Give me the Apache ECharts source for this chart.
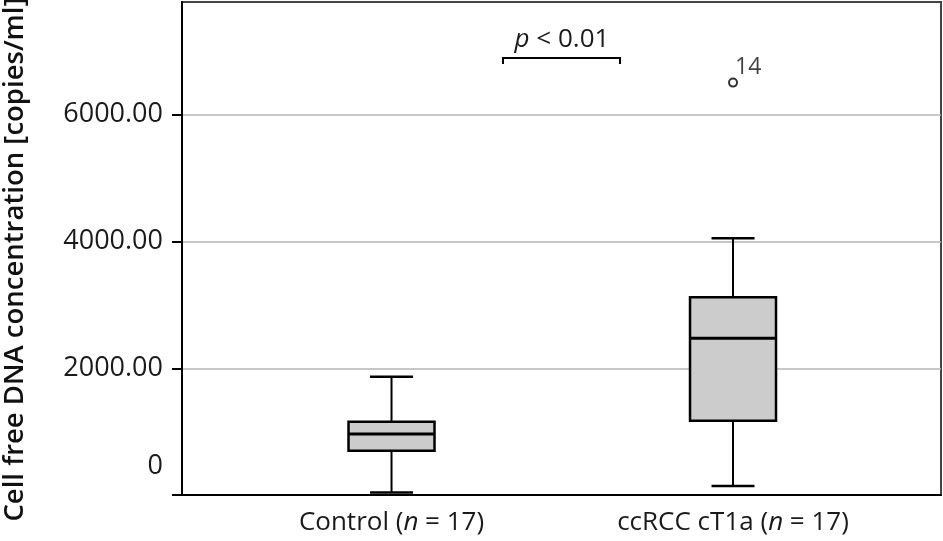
<!DOCTYPE html>
<html>
<head>
<meta charset="utf-8">
<script src="https://cdn.jsdelivr.net/npm/echarts@6/dist/echarts.min.js"></script>
<style>
html,body{margin:0;padding:0;background:#fff;}
#chart{width:943px;height:541px;}
</style>
</head>
<body>
<div id="chart"></div>
<script>
// ---- data ----
const categories = ['Control', 'ccRCC cT1a'];
const categoryLabels = ['Control ({i|n} = 17)', 'ccRCC cT1a ({i|n} = 17)'];
const lowWhisker = [40, 142];
const q1 = [699, 1173];
const median = [963, 2474];
const q3 = [1157, 3121];
const highWhisker = [1867, 4052];
const outliers = [[1, 6508, '14']];
const yTicks = [0, 2000, 4000, 6000];

const FONT = '"Open Sans", "Noto Sans", sans-serif';
const chart = echarts.init(document.getElementById('chart'));

const boxData = categories.map((c, i) => [i, lowWhisker[i], q1[i], median[i], q3[i], highWhisker[i]]);

const option = {
  animation: false,
  backgroundColor: '#fff',
  grid: {
    left: 182, right: 2, top: 2, bottom: 46,
    outerBoundsMode: 'none',
    containLabel: false,
    show: true, borderColor: '#444', borderWidth: 2, backgroundColor: 'transparent'
  },
  xAxis: {
    type: 'value',
    min: -0.6135, max: 1.609,
    axisLine: { show: true, onZero: false, lineStyle: { color: '#000', width: 2 } },
    axisTick: { show: false },
    splitLine: { show: false },
    axisLabel: {
      customValues: [0, 1],
      margin: 15,
      color: '#1a1a1a',
      fontFamily: FONT,
      fontSize: 26,
      formatter: v => categoryLabels[Math.round(v)],
      rich: { i: { fontStyle: 'italic', fontFamily: FONT, fontSize: 26, color: '#1a1a1a' } }
    }
  },
  yAxis: {
    type: 'value',
    min: 0, max: 7780,
    name: 'Cell free DNA concentration [copies/ml]',
    nameLocation: 'middle',
    nameGap: 153,
    nameTextStyle: { fontFamily: FONT, fontSize: 27.5, fontWeight: 600, color: '#111', padding: [0, 0, 0, -22] },
    axisLine: { show: true, onZero: false, lineStyle: { color: '#000', width: 2 } },
    axisTick: { show: true, customValues: yTicks, length: 10, lineStyle: { color: '#000', width: 2 } },
    splitLine: { show: true, lineStyle: { color: '#b4b4b4', width: 1.5 } },
    axisLabel: {
      customValues: yTicks,
      margin: 19,
      color: '#1a1a1a',
      fontFamily: FONT,
      fontSize: 27,
      formatter: v => v === 0 ? '{z|0}' : v.toFixed(2),
      rich: { z: { fontFamily: FONT, fontSize: 27, color: '#1a1a1a', padding: [0, 0, 57, 0] } }
    }
  },
  series: [
    {
      type: 'custom',
      data: boxData,
      encode: { x: 0, y: [1, 2, 3, 4, 5] },
      z: 3,
      renderItem: function (params, api) {
        const x = api.value(0);
        const p = [1, 2, 3, 4, 5].map(k => api.coord([x, api.value(k)]));
        const cx = p[0][0];
        const hw = 43, cw = 21.5;
        const ls = { stroke: '#000', lineWidth: 2 };
        return {
          type: 'group',
          children: [
            { type: 'line', shape: { x1: cx, y1: p[0][1], x2: cx, y2: p[1][1] }, style: ls },
            { type: 'line', shape: { x1: cx, y1: p[3][1], x2: cx, y2: p[4][1] }, style: ls },
            { type: 'line', shape: { x1: cx - cw, y1: p[0][1], x2: cx + cw, y2: p[0][1] }, style: { stroke: '#000', lineWidth: 2.5 } },
            { type: 'line', shape: { x1: cx - cw, y1: p[4][1], x2: cx + cw, y2: p[4][1] }, style: { stroke: '#000', lineWidth: 2.5 } },
            { type: 'rect', shape: { x: cx - hw, y: p[3][1], width: 2 * hw, height: p[1][1] - p[3][1] },
              style: { fill: '#cccccc', stroke: '#000', lineWidth: 2.5 } },
            { type: 'line', shape: { x1: cx - hw, y1: p[2][1], x2: cx + hw, y2: p[2][1] }, style: { stroke: '#000', lineWidth: 3 } }
          ]
        };
      }
    },
    {
      type: 'scatter',
      data: outliers.map(o => ({ value: [o[0], o[1]], name: o[2] })),
      symbol: 'circle',
      symbolSize: 8,
      z: 4,
      itemStyle: { color: '#fff', borderColor: '#000', borderWidth: 2 },
      label: {
        show: true,
        position: [7, -22],
        formatter: p => p.name,
        fontFamily: FONT, fontSize: 23, color: '#111'
      }
    }
  ],
  graphic: [
    {
      type: 'polyline',
      shape: { points: [[503, 64], [503, 58], [620, 58], [620, 64]] },
      style: { stroke: '#000', lineWidth: 2, fill: null },
      z: 10
    },
    {
      type: 'text',
      x: 562, y: 40,
      style: {
        text: '{i|p} < 0.01',
        x: 0, y: 0,
        align: 'center', verticalAlign: 'middle',
        fontFamily: FONT, fontSize: 26, fill: '#1a1a1a',
        rich: { i: { fontStyle: 'italic', fontFamily: FONT, fontSize: 26, fill: '#1a1a1a' } }
      },
      z: 10
    }
  ]
};
chart.setOption(option);
</script>
</body>
</html>
